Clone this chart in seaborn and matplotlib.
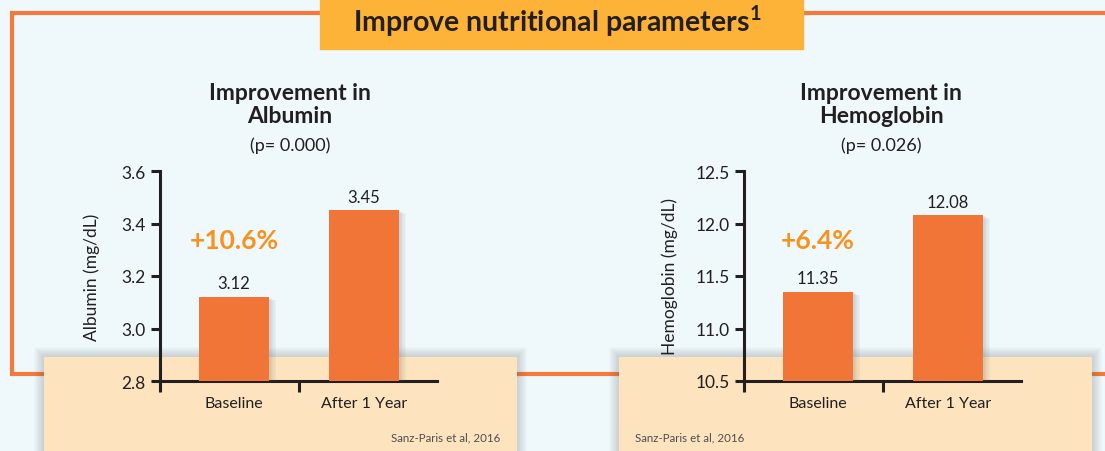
import pandas as pd
import seaborn as sns
import matplotlib.pyplot as plt
import matplotlib.patches as mpatches
import matplotlib.patheffects as pe

# Datos
categorias = ['Baseline', 'After 1 Year']
albumina = [3.12, 3.45]
hemoglobina = [11.35, 12.08]
etiquetas_albumina = ['3.12', '3.45']
etiquetas_hemoglobina = ['11.35', '12.08']
ticks_albumina = [2.8, 3.0, 3.2, 3.4, 3.6]
ticks_hemoglobina = [10.5, 11.0, 11.5, 12.0, 12.5]
cambio_albumina = '+10.6%'
cambio_hemoglobina = '+6.4%'
p_albumina = '(p= 0.000)'
p_hemoglobina = '(p= 0.026)'
cita = 'Sanz-Paris et al, 2016'

# Colores
FONDO = '#EFF8FB'
NARANJA = '#F37A3A'
BARRA = '#F17536'
AMARILLO = '#FDB338'
PORCENTAJE = '#F7921E'
BEIGE = '#FDE4BF'
OSCURO = '#231F20'

sns.set_style('white')
plt.rcParams['font.family'] = ['Lato', 'DejaVu Sans']
plt.rcParams['mathtext.fontset'] = 'custom'
plt.rcParams['mathtext.rm'] = 'Lato'
plt.rcParams['mathtext.bf'] = 'Lato:bold'

W, H = 1105, 452
fig = plt.figure(figsize=(W / 100, H / 100), dpi=100)
fig.patch.set_facecolor(FONDO)

# Capa de fondo en pixeles
bg = fig.add_axes([0, 0, 1, 1])
bg.set_xlim(0, W)
bg.set_ylim(H, 0)
bg.axis('off')
bg.set_zorder(0)

# Marco naranja
bg.plot([W, 12, 12, W], [14, 14, 375, 375], color=NARANJA, lw=3, solid_joinstyle='miter', zorder=1)

# Caja del titulo
bg.add_patch(mpatches.Rectangle((320, 0), 483, 50, color=AMARILLO, zorder=2))
bg.text(557, 21, r'Improve nutritional parameters$^{\mathbf{1}}$', ha='center', va='center',
        fontsize=20.5, fontweight='bold', color=OSCURO, zorder=3)

# Rectangulos beige con sombra
for x0, x1 in [(44, 517), (619, 1092)]:
    for k in range(10, 0, -1):
        bg.add_patch(mpatches.Rectangle((x0 - k, 358 - k), (x1 - x0) + 2 * k, 120,
                                        color='#5A5A5A', alpha=0.022, lw=0, zorder=2))
    bg.add_patch(mpatches.Rectangle((x0, 358), x1 - x0, 120, color=BEIGE, lw=0, zorder=3))

bg.text(500, 438, cita, ha='right', va='center', fontsize=8.3, color='#4D4D4D', zorder=4)
bg.text(635, 438, cita, ha='left', va='center', fontsize=8.3, color='#4D4D4D', zorder=4)


def panel(px_izq, valores, etiquetas, ticks, cambio, titulo, pval, ylabel, cx, ylx):
    ax = fig.add_axes([px_izq / W, (H - 382) / H, 277 / W, 210 / H])
    ax.set_zorder(1)
    ax.patch.set_alpha(0)
    df = pd.DataFrame({'categoria': categorias, 'valor': valores})
    sns.barplot(data=df, x='categoria', y='valor', color=BARRA, saturation=1,
                width=0.54, linewidth=0, ax=ax, zorder=3)
    sombra = [pe.SimplePatchShadow(offset=(k, -k * 0.5), shadow_rgbFace='#6B6B6B', alpha=0.05)
              for k in (1, 2, 3, 4, 5)]
    for barra in ax.patches:
        barra.set_path_effects(sombra + [pe.Normal()])
    ax.set_ylim(ticks[0], ticks[-1])
    ax.set_xlim(-0.569, 1.56)
    ax.set_xlabel('')
    ax.set_ylabel('')
    for lado in ['top', 'right']:
        ax.spines[lado].set_visible(False)
    for lado in ['left', 'bottom']:
        ax.spines[lado].set_linewidth(2.2)
        ax.spines[lado].set_color(OSCURO)
    ax.set_yticks(ticks)
    ax.set_yticklabels([f'{t:.1f}' for t in ticks])
    ax.tick_params(axis='y', left=True, length=6.5, width=2.2, pad=4, labelsize=12.5,
                   color=OSCURO, labelcolor=OSCURO)
    ax.set_xticks([0, 1])
    ax.set_xticklabels(categorias)
    ax.tick_params(axis='x', which='major', bottom=True, length=0, pad=11, labelsize=11.5,
                   labelcolor=OSCURO)
    ax.set_xticks([-0.569, 0.5], minor=True)
    ax.tick_params(axis='x', which='minor', bottom=True, length=8, width=2.2, color=OSCURO)
    for i, v in enumerate(valores):
        ax.annotate(etiquetas[i], (i, v), xytext=(0, 4), textcoords='offset points',
                    ha='center', va='bottom', fontsize=12, color=OSCURO)
    ax.text(0, 0.671, cambio, transform=ax.get_xaxis_transform(), ha='center', va='center',
            fontsize=19, fontweight='bold', color=PORCENTAJE)
    bg.text(cx, 105, titulo, ha='center', va='center', fontsize=16.5, fontweight='bold',
            color=OSCURO, linespacing=1.12)
    bg.text(cx, 146, pval, ha='center', va='center', fontsize=13, color=OSCURO)
    bg.text(ylx, 277, ylabel, ha='center', va='center', rotation=90, fontsize=12.5, color=OSCURO)
    return ax


panel(160, albumina, etiquetas_albumina, ticks_albumina, cambio_albumina,
      'Improvement in\nAlbumin', p_albumina, 'Albumin (mg/dL)', 290, 92)
panel(744, hemoglobina, etiquetas_hemoglobina, ticks_hemoglobina, cambio_hemoglobina,
      'Improvement in\nHemoglobin', p_hemoglobina, 'Hemoglobin (mg/dL)', 881, 670)

fig.savefig('out.png', dpi=100, facecolor=FONDO)
